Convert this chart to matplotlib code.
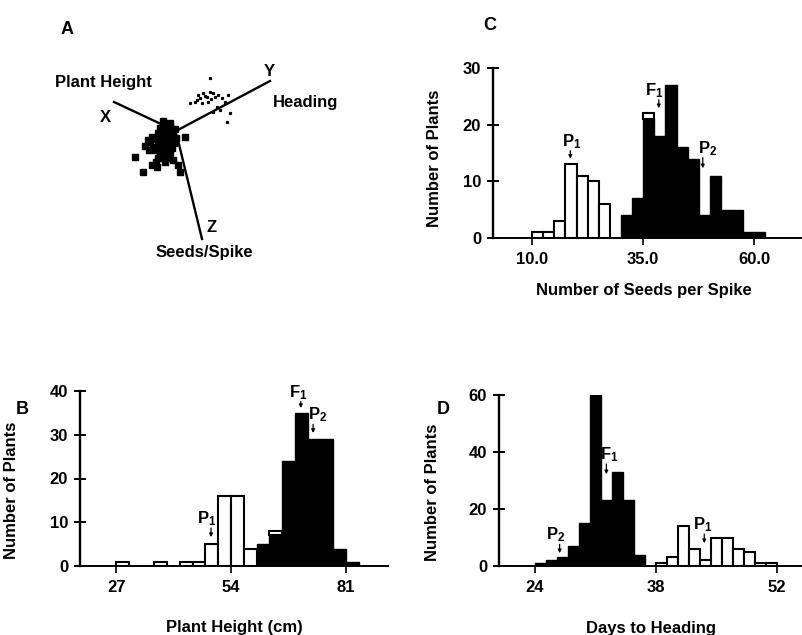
import numpy as np
import matplotlib
matplotlib.use('Agg')
import matplotlib.pyplot as plt

plt.rcParams['font.family'] = ['Liberation Sans', 'DejaVu Sans']
plt.rcParams['font.weight'] = 'bold'
plt.rcParams['axes.labelweight'] = 'bold'
plt.rcParams['mathtext.fontset'] = 'custom'
plt.rcParams['mathtext.bf'] = 'Liberation Sans:bold'
plt.rcParams['mathtext.rm'] = 'Liberation Sans:bold'
plt.rcParams['mathtext.default'] = 'bf'

W, H = 803, 635
FS = 12

# --- data ---
# A: projected 3D scatter (panel pixel coords)
blob_x = [160, 165, 170, 175, 163, 168, 173, 158, 161, 166, 171, 176, 156, 160, 165, 170,
          174, 158, 163, 168, 172, 155, 160, 166, 170, 162, 167, 158, 153, 152, 148, 149,
          156, 152, 165, 173, 178, 163, 170, 135, 143, 180, 185, 150, 157, 145]
blob_y = [128, 126, 127, 129, 131, 131, 133, 133, 136, 136, 137, 138, 139, 141, 141, 142,
          143, 145, 146, 147, 148, 150, 151, 152, 153, 156, 158, 158, 147, 137, 140, 150,
          162, 165, 162, 160, 165, 121, 123, 157, 172, 172, 137, 142, 167, 146]
head_x = [210, 190, 197, 198, 200, 203, 207, 210, 213, 215, 218, 222, 225, 228, 217, 220,
          230, 227, 213, 202, 195, 208, 205, 211]
head_y = [78, 103, 100, 95, 98, 93, 97, 92, 93, 97, 95, 98, 102, 95, 107, 110,
          113, 122, 112, 103, 102, 102, 96, 99]

# B: plant height (cm), bins of 3 starting at 27
height_start, height_width = 27, 3
height_white = [1, 0, 0, 1, 0, 1, 1, 5, 16, 16, 4, 0, 1, 0, 0, 0, 0, 0, 0]
height_black = [0, 0, 0, 0, 0, 0, 0, 0, 0, 0, 0, 5, 7, 24, 35, 29, 29, 4, 1]

# C: seeds per spike, bins of 2.5 starting at 10
seeds_start, seeds_width = 10.0, 2.5
seeds_white = [1, 1, 3, 13, 11, 10, 6, 0, 0, 0, 1, 0, 0, 0, 0, 0, 0, 0, 0, 0, 0]
seeds_black = [0, 0, 0, 0, 0, 0, 0, 0, 4, 7, 21, 18, 27, 16, 14, 4, 11, 5, 5, 1, 1]

# D: days to heading, 11 bins per 14 days starting at 24
days_start, days_width = 24, 14 / 11
days_black = [1, 2, 3, 7, 15, 60, 23, 33, 23, 4, 0, 0, 0, 0, 0, 0, 0, 0, 0, 0, 0, 0]
days_white = [0, 0, 0, 0, 0, 0, 0, 0, 0, 0, 0, 1, 3, 14, 6, 2, 10, 10, 6, 5, 1, 1]


def px_axes(left, top, right, bottom):
    return [left / W, 1 - bottom / H, (right - left) / W, (bottom - top) / H]


def hist_panel(ax, start, width, black, white, xlim, ymax, yticks, xticks, xticklabels):
    black = np.array(black, dtype=float)
    white = np.array(white, dtype=float)
    edges = start + width * np.arange(len(black))
    ax.bar(edges, black, width, align='edge', color='black', edgecolor='black', lw=1.0)
    m = white > 0
    ax.bar(edges[m], white[m], width, bottom=black[m], align='edge',
           color='white', edgecolor='black', lw=1.5)
    ax.set_xlim(*xlim)
    ax.set_ylim(0, ymax)
    for s in ['top', 'right']:
        ax.spines[s].set_visible(False)
    ax.spines['left'].set_linewidth(1.7)
    ax.spines['bottom'].set_linewidth(1.4)
    ax.spines['left'].set_bounds(0, ymax)
    ax.set_yticks(yticks)
    ax.set_xticks(xticks)
    ax.set_xticklabels(xticklabels)
    ax.tick_params(axis='y', direction='inout', length=9, width=1.4, pad=4, labelsize=FS)
    ax.tick_params(axis='x', direction='out', length=5, width=1.2, pad=5, labelsize=FS)


def mark(ax, label, ax_x, tip, tail, tx, ty):
    ax.annotate('', xy=(ax_x, tip), xytext=(ax_x, tail),
                arrowprops=dict(arrowstyle='-|>', lw=0.9, color='black',
                                mutation_scale=5, shrinkA=0, shrinkB=0))
    ax.text(tx, ty, label, ha='center', va='bottom', fontsize=FS, fontweight='bold')


fig = plt.figure(figsize=(W / 100, H / 100), dpi=100)

# ---- Panel A ----
axa = fig.add_axes([0, 1 - 260 / H, 330 / W, 260 / H])
axa.set_xlim(0, 330)
axa.set_ylim(260, 0)
axa.axis('off')
axa.plot([114, 176], [102, 131], color='black', lw=1.7)
axa.plot([176, 270], [131, 81], color='black', lw=1.7)
axa.plot([177, 202], [136, 239], color='black', lw=1.7)
axa.plot(blob_x, blob_y, 's', color='black', ms=4)
axa.plot(head_x, head_y, 's', color='black', ms=1.3)
axa.text(105, 118, 'X', ha='center', va='center', fontsize=FS)
axa.text(269, 71, 'Y', ha='center', va='center', fontsize=FS)
axa.text(212, 228, 'Z', ha='center', va='center', fontsize=FS)
axa.text(103, 82, 'Plant Height', ha='center', va='center', fontsize=FS)
axa.text(273, 103, 'Heading', ha='left', va='center', fontsize=FS)
axa.text(204, 253, 'Seeds/Spike', ha='center', va='center', fontsize=FS)

# ---- Panel C ----
axc = fig.add_axes(px_axes(493, 68, 801, 238))
hist_panel(axc, seeds_start, seeds_width, seeds_black, seeds_white,
           (1.2, 70.5), 30, [0, 10, 20, 30], [10, 35, 60], ['10.0', '35.0', '60.0'])
axc.set_ylabel('Number of Plants', fontsize=FS)
axc.yaxis.set_label_coords(-0.165, 0.47)
axc.set_xlabel('Number of Seeds per Spike', fontsize=FS)
axc.xaxis.set_label_coords(0.49, -0.265)
mark(axc, r'P$_1$', 18.6, 14.0, 15.4, 19.0, 15.3)
mark(axc, r'F$_1$', 38.5, 22.9, 24.4, 37.4, 24.3)
mark(axc, r'P$_2$', 48.4, 12.3, 14.2, 49.6, 14.1)

# ---- Panel B ----
axb = fig.add_axes(px_axes(80, 391, 388, 566))
hist_panel(axb, height_start, height_width, height_black, height_white,
           (18.5, 90.9), 40, [0, 10, 20, 30, 40], [27, 54, 81], ['27', '54', '81'])
axb.set_ylabel('Number of Plants', fontsize=FS)
axb.yaxis.set_label_coords(-0.198, 0.43)
axb.set_xlabel('Plant Height (cm)', fontsize=FS)
axb.xaxis.set_label_coords(0.5, -0.31)
mark(axb, r'P$_1$', 49.3, 6.6, 8.7, 48.3, 8.7)
mark(axb, r'F$_1$', 70.4, 36.1, 37.6, 69.8, 37.6)
mark(axb, r'P$_2$', 73.3, 30.4, 32.4, 74.4, 32.4)

# ---- Panel D ----
axd = fig.add_axes(px_axes(499, 395, 803, 566))
hist_panel(axd, days_start, days_width, days_black, days_white,
           (19.9, 55.0), 60, [0, 20, 40, 60], [24, 38, 52], ['24', '38', '52'])
axd.set_ylabel('Number of Plants', fontsize=FS)
axd.yaxis.set_label_coords(-0.194, 0.43)
axd.set_xlabel('Days to Heading', fontsize=FS)
axd.xaxis.set_label_coords(0.5, -0.32)
mark(axd, r'P$_2$', 26.9, 4.5, 7.6, 26.4, 7.8)
mark(axd, r'F$_1$', 32.3, 32.2, 35.8, 32.6, 35.8)
mark(axd, r'P$_1$', 43.6, 8.0, 11.2, 43.4, 11.2)

# panel letters
for letter, x, y in [('A', 67, 30), ('C', 490, 25), ('B', 22, 409), ('D', 443, 409)]:
    fig.text(x / W, 1 - y / H, letter, ha='center', va='center', fontsize=13, fontweight='bold')

plt.savefig('out.png', dpi=100)
